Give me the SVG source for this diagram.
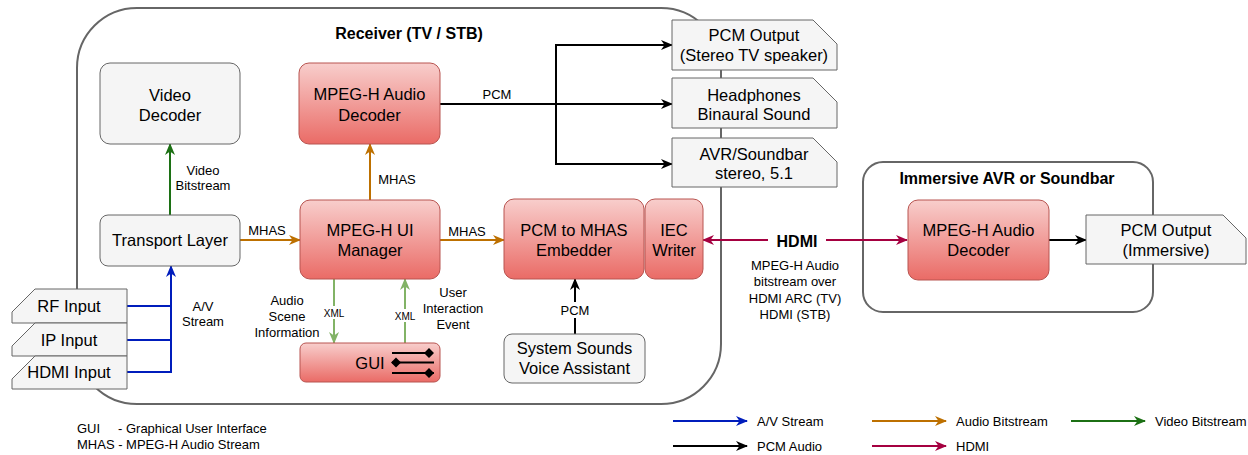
<svg xmlns="http://www.w3.org/2000/svg" width="1248" height="455" viewBox="0 0 1248 455">
<style>
text{font-family:"Liberation Sans",Arial,sans-serif;fill:#000}
.nt{font-size:16.5px;text-anchor:middle}
.lb{font-size:13px;text-anchor:middle}
.sm{font-size:10px;text-anchor:middle}
.tt{font-size:16px;font-weight:bold;text-anchor:middle}
.lg{font-size:13px}
.red{fill:url(#rg);stroke:#b85450;stroke-width:1}
.grey{fill:#f5f5f5;stroke:#666;stroke-width:1}
.cont{fill:none;stroke:#666;stroke-width:2}
.c{fill:none;stroke-width:2}
</style>
<defs>
<linearGradient id="rg" x1="0" y1="0" x2="0" y2="1">
<stop offset="0" stop-color="#f8cecc"/>
<stop offset="1" stop-color="#ea6b66"/>
</linearGradient>
<marker id="mk" viewBox="0 0 12 10" refX="11" refY="5" markerWidth="12" markerHeight="10" markerUnits="userSpaceOnUse" orient="auto-start-reverse"><path d="M0,0 L12,5 L0,10 L3.5,5 Z" fill="#000"/></marker>
<marker id="mb" viewBox="0 0 12 10" refX="11" refY="5" markerWidth="12" markerHeight="10" markerUnits="userSpaceOnUse" orient="auto-start-reverse"><path d="M0,0 L12,5 L0,10 L3.5,5 Z" fill="#001DBC"/></marker>
<marker id="mo" viewBox="0 0 12 10" refX="11" refY="5" markerWidth="12" markerHeight="10" markerUnits="userSpaceOnUse" orient="auto-start-reverse"><path d="M0,0 L12,5 L0,10 L3.5,5 Z" fill="#BD7000"/></marker>
<marker id="mg" viewBox="0 0 12 10" refX="11" refY="5" markerWidth="12" markerHeight="10" markerUnits="userSpaceOnUse" orient="auto-start-reverse"><path d="M0,0 L12,5 L0,10 L3.5,5 Z" fill="#1C7014"/></marker>
<marker id="mr" viewBox="0 0 12 10" refX="11" refY="5" markerWidth="12" markerHeight="10" markerUnits="userSpaceOnUse" orient="auto-start-reverse"><path d="M0,0 L12,5 L0,10 L3.5,5 Z" fill="#A50040"/></marker>
<marker id="ml" viewBox="0 0 12 10" refX="11" refY="5" markerWidth="12" markerHeight="10" markerUnits="userSpaceOnUse" orient="auto-start-reverse"><path d="M0,0 L12,5 L0,10 L3.5,5 Z" fill="#82b366"/></marker>
</defs>
<rect width="1248" height="455" fill="#fff"/>

<g id="receiver">
<rect class="cont" x="77" y="8" width="644" height="396" rx="60"/>
<text class="tt" x="409" y="39">Receiver (TV / STB)</text>
</g>
<g id="immersive">
<rect class="cont" x="863" y="162" width="290" height="150" rx="20"/>
<text class="tt" x="1007" y="184">Immersive AVR or Soundbar</text>
</g>

<g id="connectors">
<path class="c" stroke="#1C7014" d="M170,215 V144" marker-end="url(#mg)"/>
<path class="c" stroke="#001DBC" d="M127,306 H171 M127,340 H171 M127,372 H171"/>
<path class="c" stroke="#001DBC" d="M171,373 V266" marker-end="url(#mb)"/>
<path class="c" stroke="#BD7000" d="M240,240 H300" marker-end="url(#mo)"/>
<path class="c" stroke="#BD7000" d="M440,240 H504" marker-end="url(#mo)"/>
<path class="c" stroke="#BD7000" d="M370,200 V144" marker-end="url(#mo)"/>
<path class="c" stroke="#000" d="M440,104 H672" marker-end="url(#mk)"/>
<path class="c" stroke="#000" d="M556,104 V45 H672" marker-end="url(#mk)"/>
<path class="c" stroke="#000" d="M556,104 V164 H672" marker-end="url(#mk)"/>
<path class="c" stroke="#000" d="M575,334 V279" marker-end="url(#mk)"/>
<path class="c" stroke="#82b366" d="M334,279 V343" marker-end="url(#ml)"/>
<path class="c" stroke="#82b366" d="M405,343 V279" marker-end="url(#ml)"/>
<path class="c" stroke="#A50040" d="M703,240 H907" marker-start="url(#mr)" marker-end="url(#mr)"/>
<path class="c" stroke="#000" d="M1049,240 H1086" marker-end="url(#mk)"/>
<text class="lb" x="203" y="174.5">Video</text>
<text class="lb" x="203" y="189.5">Bitstream</text>
<text class="lb" x="203" y="310.5">A/V</text>
<text class="lb" x="203" y="325.5">Stream</text>
<text class="lb" x="267" y="234.5">MHAS</text>
<text class="lb" x="467" y="235.5">MHAS</text>
<text class="lb" x="397" y="183.5">MHAS</text>
<text class="lb" x="497" y="98.5">PCM</text>
<rect x="558" y="302" width="34" height="16" fill="#fff"/>
<text class="lb" x="575" y="314.5">PCM</text>
<rect x="321" y="306" width="26" height="13" fill="#fff"/>
<text class="sm" x="334" y="316.5">XML</text>
<rect x="392" y="309" width="26" height="13" fill="#fff"/>
<text class="sm" x="405" y="319.5">XML</text>
<text class="lb" x="287" y="304.5">Audio</text>
<text class="lb" x="287" y="320.5">Scene</text>
<text class="lb" x="287" y="336.5">Information</text>
<text class="lb" x="453" y="296.5">User</text>
<text class="lb" x="453" y="312.5">Interaction</text>
<text class="lb" x="453" y="328.5">Event</text>
<rect x="768" y="229" width="58" height="22" fill="#fff"/>
<text x="797" y="246.5" style="font-size:16px;font-weight:bold;text-anchor:middle">HDMI</text>
<text class="lb" x="795" y="269.5">MPEG-H Audio</text>
<text class="lb" x="795" y="286">bitstream over</text>
<text class="lb" x="795" y="302.5">HDMI ARC (TV)</text>
<text class="lb" x="795" y="318.5">HDMI (STB)</text>
</g>

<g id="video-decoder">
<rect class="grey" x="100" y="63" width="140" height="81" rx="10"/>
<text class="nt" x="170" y="100.5">Video</text>
<text class="nt" x="170" y="121">Decoder</text>
</g>
<g id="transport-layer">
<rect class="grey" x="100" y="215" width="140" height="51" rx="8"/>
<text class="nt" x="170" y="246">Transport Layer</text>
</g>
<g id="audio-decoder">
<rect class="red" x="299" y="63" width="141" height="81" rx="10"/>
<text class="nt" x="369.5" y="100">MPEG-H Audio</text>
<text class="nt" x="369.5" y="121">Decoder</text>
</g>
<g id="ui-manager">
<rect class="red" x="300" y="200" width="140" height="79" rx="10"/>
<text class="nt" x="370" y="236">MPEG-H UI</text>
<text class="nt" x="370" y="256">Manager</text>
</g>
<g id="gui">
<rect class="red" x="300" y="343" width="140" height="39" rx="6"/>
<text class="nt" x="370" y="369">GUI</text>
<path d="M392,353 H433 M392,362.5 H434 M392,373 H434" stroke="#000" stroke-width="2" fill="none"/>
<path d="M429,348 L434,353 L429,358 L424,353 Z M396,357.5 L401,362.5 L396,367.5 L391,362.5 Z M429,368 L434,373 L429,378 L424,373 Z" fill="#000"/>
</g>
<g id="pcm-embedder">
<rect class="red" x="504" y="199" width="140" height="80" rx="10"/>
<text class="nt" x="574" y="236">PCM to MHAS</text>
<text class="nt" x="574" y="256">Embedder</text>
</g>
<g id="iec-writer">
<rect class="red" x="645" y="199" width="58" height="80" rx="10"/>
<text class="nt" x="674" y="236">IEC</text>
<text class="nt" x="674" y="256">Writer</text>
</g>
<g id="system-sounds">
<rect class="grey" x="504" y="334" width="141" height="49" rx="8"/>
<text class="nt" x="574.5" y="354">System Sounds</text>
<text class="nt" x="574.5" y="374">Voice Assistant</text>
</g>
<g id="rf-input">
<path class="grey" d="M35,289 H127 V323 H12 V312 Z"/>
<text class="nt" x="69" y="312">RF Input</text>
</g>
<g id="ip-input">
<path class="grey" d="M35,323 H127 V356 H12 V346 Z"/>
<text class="nt" x="69" y="346">IP Input</text>
</g>
<g id="hdmi-input">
<path class="grey" d="M35,356 H127 V389 H12 V379 Z"/>
<text class="nt" x="69" y="378">HDMI Input</text>
</g>
<g id="pcm-output">
<path class="grey" d="M672,20 H813 L837,44 V70 H672 Z"/>
<text class="nt" x="754" y="41">PCM Output</text>
<text class="nt" x="754" y="61">(Stereo TV speaker)</text>
</g>
<g id="headphones">
<path class="grey" d="M672,78 H813 L837,102 V128 H672 Z"/>
<text class="nt" x="754" y="101">Headphones</text>
<text class="nt" x="754" y="120">Binaural Sound</text>
</g>
<g id="avr">
<path class="grey" d="M672,138 H813 L837,162 V187 H672 Z"/>
<text class="nt" x="754" y="160">AVR/Soundbar</text>
<text class="nt" x="754" y="179">stereo, 5.1</text>
</g>
<g id="immersive-decoder">
<rect class="red" x="908" y="200" width="141" height="80" rx="10"/>
<text class="nt" x="978.5" y="236">MPEG-H Audio</text>
<text class="nt" x="978.5" y="256">Decoder</text>
</g>
<g id="pcm-immersive">
<path class="grey" d="M1086,215 H1223 L1246,238 V264 H1086 Z"/>
<text class="nt" x="1166" y="236">PCM Output</text>
<text class="nt" x="1166" y="256">(Immersive)</text>
</g>

<g id="legend">
<text class="lg" x="77" y="433">GUI<tspan x="118">- Graphical User Interface</tspan></text>
<text class="lg" x="77" y="449">MHAS - MPEG-H Audio Stream</text>
<path class="c" stroke="#001DBC" d="M673,421 H747" marker-end="url(#mb)"/>
<text class="lg" x="757" y="425.5">A/V Stream</text>
<path class="c" stroke="#BD7000" d="M872,421 H946" marker-end="url(#mo)"/>
<text class="lg" x="956" y="425.5">Audio Bitstream</text>
<path class="c" stroke="#1C7014" d="M1071,421 H1145" marker-end="url(#mg)"/>
<text class="lg" x="1155" y="425.5">Video Bitstream</text>
<path class="c" stroke="#000" d="M673,446 H747" marker-end="url(#mk)"/>
<text class="lg" x="757" y="450.5">PCM Audio</text>
<path class="c" stroke="#A50040" d="M872,446 H946" marker-end="url(#mr)"/>
<text class="lg" x="956" y="450.5">HDMI</text>
</g>
</svg>
